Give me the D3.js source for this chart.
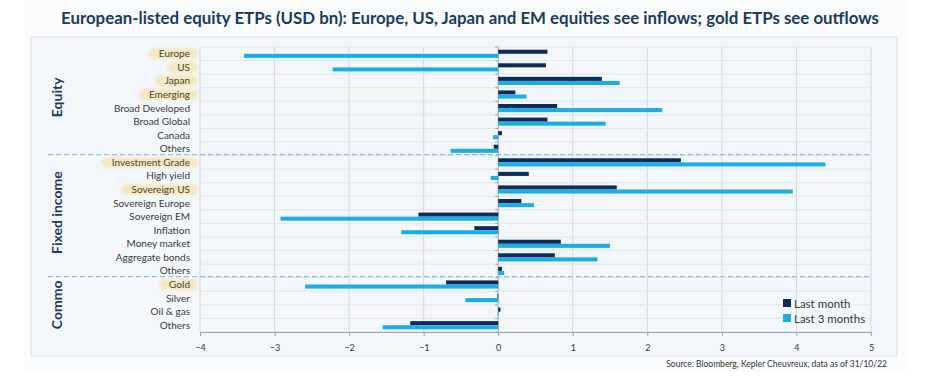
<!DOCTYPE html>
<html>
<head>
<meta charset="utf-8">
<script src="https://cdn.jsdelivr.net/npm/d3@7"></script>
<style>
  body { margin: 0; background: #ffffff; }
  svg { display: block; font-family: Lato, "Noto Sans", sans-serif; }
</style>
</head>
<body>
<div id="container"></div>
<script>
// data (USD bn)
const categories = ["Europe", "US", "Japan", "Emerging", "Broad Developed", "Broad Global", "Canada", "Others",
  "Investment Grade", "High yield", "Sovereign US", "Sovereign Europe", "Sovereign EM", "Inflation",
  "Money market", "Aggregate bonds", "Others",
  "Gold", "Silver", "Oil & gas", "Others"];
const lastMonth = [0.66, 0.64, 1.39, 0.23, 0.79, 0.66, 0.05, -0.06,
  2.45, 0.41, 1.59, 0.31, -1.07, -0.32, 0.84, 0.76, 0.05,
  -0.70, -0.01, 0.03, -1.18];
const last3Months = [-3.41, -2.22, 1.63, 0.38, 2.20, 1.44, -0.07, -0.64,
  4.39, -0.10, 3.95, 0.48, -2.92, -1.30, 1.50, 1.33, 0.08,
  -2.59, -0.44, -0.01, -1.55];
const highlighted = ["Europe", "US", "Japan", "Emerging", "Investment Grade", "Sovereign US", "Gold"];
const groupNames = ["Equity", "Fixed income", "Commo"];
const groupSizes = [8, 9, 4];
const seriesNames = ["Last month", "Last 3 months"];
const xTicks = [-4, -3, -2, -1, 0, 1, 2, 3, 4, 5];

const w = 928, h = 385;
const colors = ["#0c2b57", "#1badE3"];

const svg = d3.select("#container").append("svg").attr("width", w).attr("height", h);

svg.append("defs").append("filter").attr("id", "glow")
  .attr("x", "-30%").attr("y", "-80%").attr("width", "160%").attr("height", "260%")
  .append("feGaussianBlur").attr("stdDeviation", 1.8);

// card + panel
svg.append("rect").attr("x", 24).attr("y", 0).attr("width", 882).attr("height", 372).attr("fill", "#fafbfd");
svg.append("rect").attr("x", 31).attr("y", 37).attr("width", 866).attr("height", 319)
  .attr("fill", "#f3f7fb").attr("stroke", "#d8dde4");

svg.append("text")
  .attr("x", 470).attr("y", 24)
  .attr("text-anchor", "middle")
  .attr("font-weight", "bold").attr("font-size", 17)
  .attr("fill", "#1d3a5f")
  .attr("textLength", 818).attr("lengthAdjust", "spacingAndGlyphs")
  .text("European-listed equity ETPs (USD bn): Europe, US, Japan and EM equities see inflows; gold ETPs see outflows");

const xScale = d3.scaleLinear().domain([-4, 5]).range([200, 871]);
const ids = categories.map((c, i) => i);
const yScale = d3.scaleBand().domain(ids).range([47, 332]).paddingInner(0.4).paddingOuter(0.2);
const subScale = d3.scaleBand().domain([0, 1]).range([0, yScale.bandwidth()]);
const step = yScale.step();
const rowTop = i => 47 + i * step;

// vertical grid
svg.append("g").selectAll("line").data(xTicks).enter().append("line")
  .attr("x1", d => xScale(d)).attr("x2", d => xScale(d))
  .attr("y1", 47).attr("y2", 332)
  .attr("stroke", d => d === 0 ? "#9aa1aa" : "#d3d8df").attr("stroke-width", 1);

// horizontal row lines
svg.append("g").selectAll("line").data(d3.range(categories.length + 1)).enter().append("line")
  .attr("x1", 200).attr("x2", 871)
  .attr("y1", d => rowTop(d)).attr("y2", d => rowTop(d))
  .attr("stroke", "#e2e6eb");

// small ticks on zero line
svg.append("g").selectAll("line").data(d3.range(categories.length + 1)).enter().append("line")
  .attr("x1", xScale(0) - 3).attr("x2", xScale(0))
  .attr("y1", d => rowTop(d)).attr("y2", d => rowTop(d))
  .attr("stroke", "#9aa1aa");

// group separators
let acc = 0;
const groupStarts = groupSizes.map(s => { const a = acc; acc += s; return a; });
svg.append("g").selectAll("line").data(groupStarts.slice(1)).enter().append("line")
  .attr("x1", 48).attr("x2", 871)
  .attr("y1", d => rowTop(d) - 1).attr("y2", d => rowTop(d) - 1)
  .attr("stroke", "#8ec2ec").attr("stroke-width", 1.2).attr("stroke-dasharray", "5,3");

// bars
const seriesData = [lastMonth, last3Months];
seriesData.forEach((vals, s) => {
  svg.append("g").selectAll("rect").data(vals).enter().append("rect")
    .attr("x", d => xScale(Math.min(0, d)))
    .attr("y", (d, i) => yScale(i) + subScale(s))
    .attr("width", d => Math.abs(xScale(d) - xScale(0)))
    .attr("height", subScale.bandwidth())
    .attr("fill", colors[s]);
});

// x axis
const xAxis = d3.axisBottom(xScale).tickValues(xTicks).tickSize(4).tickFormat(d3.format("d"));
const gx = svg.append("g").attr("transform", "translate(0,332)").call(xAxis);
gx.select(".domain").attr("stroke", "#9aa1aa");
gx.selectAll(".tick line").attr("stroke", "#9aa1aa");
gx.selectAll(".tick text").attr("font-size", 9).attr("fill", "#333").attr("dy", "1.3em")
  .attr("font-family", "Lato, sans-serif");

// category labels with highlight
const labels = svg.append("g");
categories.forEach((c, i) => {
  const y = yScale(i) + yScale.bandwidth() / 2;
  const t = labels.append("text")
    .attr("x", 190).attr("y", y).attr("dy", "0.35em")
    .attr("text-anchor", "end").attr("font-size", 10)
    .attr("fill", highlighted.includes(c) ? "#4b4330" : "#3a3a3a")
    .text(c);
  if (highlighted.includes(c)) {
    const len = t.node().getComputedTextLength();
    labels.insert("rect", "text")
      .attr("x", 190 - len - 10).attr("y", y - 5.5)
      .attr("width", len + 18).attr("height", 11).attr("rx", 6)
      .attr("fill", "#f5e3ad").attr("opacity", 0.75)
      .attr("filter", "url(#glow)");
  }
});

// group labels
groupNames.forEach((g, k) => {
  const cy = rowTop(groupStarts[k]) + groupSizes[k] * step / 2 - (k < 2 ? 4 : 0);
  svg.append("text")
    .attr("transform", "translate(62," + cy + ") rotate(-90)")
    .attr("text-anchor", "middle")
    .attr("font-weight", "bold").attr("font-size", 14)
    .attr("fill", "#1d3a5f")
    .text(g);
});

// legend
const legend = svg.append("g").attr("transform", "translate(783,299)");
seriesNames.forEach((n, s) => {
  legend.append("rect").attr("x", 0).attr("y", s * 15).attr("width", 8).attr("height", 8).attr("fill", colors[s]);
  legend.append("text").attr("x", 11).attr("y", s * 15 + 8.5).attr("font-size", 11.5).attr("fill", "#3a3a3a").text(n);
});

svg.append("text")
  .attr("x", 887).attr("y", 367)
  .attr("text-anchor", "end").attr("font-size", 8.5).attr("fill", "#333")
  .text("Source: Bloomberg, Kepler Cheuvreux, data as of 31/10/22");
</script>
</body>
</html>
